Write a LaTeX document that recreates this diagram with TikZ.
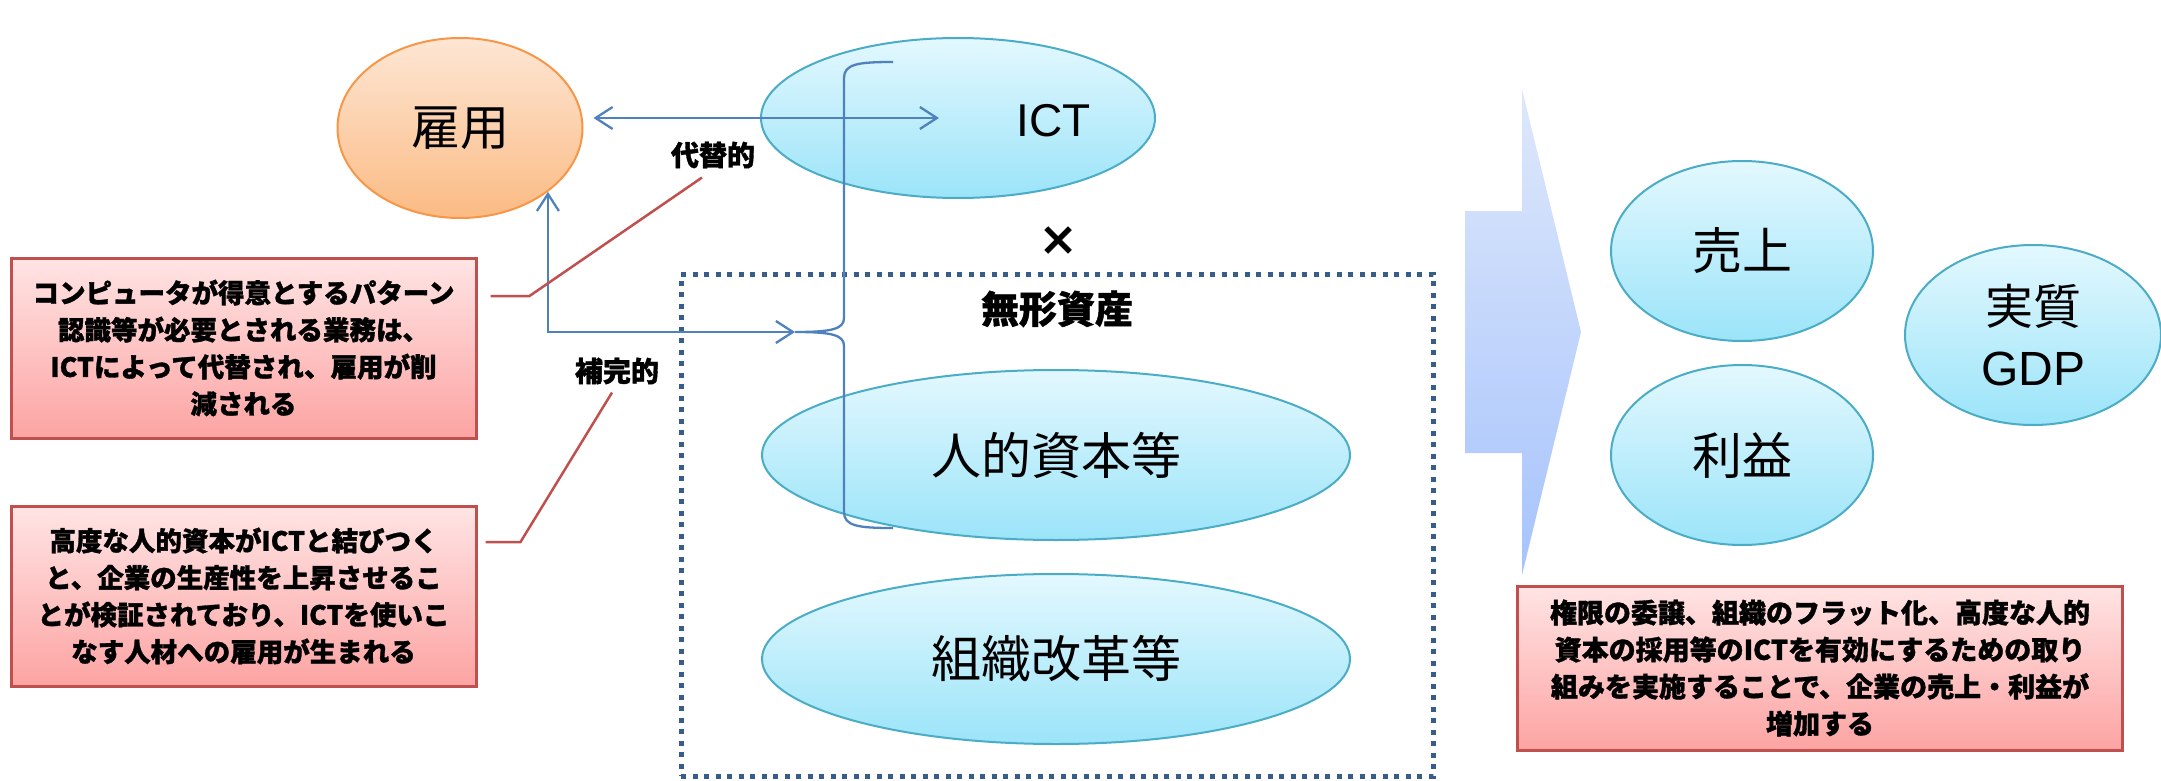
\documentclass[tikz,border=0pt]{standalone}
\usepackage{fontspec}
\setmainfont{Noto Sans CJK JP}[BoldFeatures={FakeBold=1.2}]
\newfontfamily\latinfont{Liberation Sans}
\usepackage{xcolor}
\usepackage{tikz}
\usetikzlibrary{positioning,shapes.geometric,arrows.meta}
\definecolor{rimorange}{HTML}{F79646}
\definecolor{peachtop}{HTML}{FDE6D4}
\definecolor{peachbot}{HTML}{FBBB84}
\definecolor{rimcyan}{HTML}{4BACC6}
\definecolor{skytop}{HTML}{E3F8FE}
\definecolor{skybot}{HTML}{9BE4F9}
\definecolor{rimred}{HTML}{C0504D}
\definecolor{pinktop}{HTML}{FFE4E4}
\definecolor{pinkbot}{HTML}{FCA4A3}
\definecolor{linkblue}{HTML}{4F81BD}
\definecolor{dotblue}{HTML}{385D8A}
\definecolor{arrowtop}{HTML}{DEE8FB}
\definecolor{arrowbot}{HTML}{A6C3FC}
\tikzset{
  job oval/.style={
    ellipse,
    draw=rimorange,
    line width=2pt,
    top color=peachtop,
    bottom color=peachbot,
    minimum width=245pt,
    minimum height=180pt,
    inner sep=0pt,
    font=\fontsize{49}{56}\selectfont,
  },
  sky oval/.style={
    ellipse,
    draw=rimcyan,
    line width=2pt,
    top color=skytop,
    bottom color=skybot,
    minimum width={#1},
    minimum height=170pt,
    inner sep=0pt,
    font=\fontsize{50}{60}\selectfont,
  },
  note box/.style={
    rectangle,
    draw=rimred,
    line width=3pt,
    top color=pinktop,
    bottom color=pinkbot,
    minimum width=465pt,
    minimum height=180pt,
    align=center,
    font=\bfseries\fontsize{26.5}{37}\selectfont,
  },
  blue line/.style={
    draw=linkblue,
    line width=2.3pt,
  },
  link/.style={
    blue line,
    {Straight Barb[length=17pt,width=22pt]}-{Straight Barb[length=17pt,width=22pt]},
  },
  callout/.style={
    draw=rimred,
    line width=2.5pt,
  },
  tag/.style={
    inner sep=0pt,
    font=\bfseries\fontsize{28}{32}\selectfont,
  }
}

\begin{document}
\begin{tikzpicture}[x=1pt, y=-1pt, node distance=22pt]
    \useasboundingbox (0,0) rectangle (2161,781);

    \node [job oval] (koyo) at (460,128) {雇用};
    \node [sky oval=394pt, minimum height=160pt,
      label={[font=\latinfont\fontsize{46}{50}\selectfont, xshift=96pt, yshift=-3pt]center:ICT}] (ict) at (958,118) {};
    \node [tag] (subst) at (713,155) {代替的};
    \node [tag] (compl) at (617,371) {補完的};

    \node [note box] (note1) at (243.5,348) {コンピュータが得意とするパターン\\認識等が必要とされる業務は、\\ICTによって代替され、雇用が削\\減される};
    \node [note box, below=65pt of note1] (note2) {高度な人的資本がICTと結びつく\\と、企業の生産性を上昇させるこ\\とが検証されており、ICTを使いこ\\なす人材への雇用が生まれる};

    \node [draw=dotblue, line width=5pt, dash pattern=on 5pt off 6.5pt,
      minimum width=752pt, minimum height=502pt] (intang) at (1057,525) {};
    \node [tag, font=\bfseries\fontsize{38}{40}\selectfont, below=19pt of intang.north] (mukei) {無形資産};
    \node [sky oval=588pt] (hcap) at (1056,455) {人的資本等};
    \node [sky oval=588pt, below=32pt of hcap] (org) {組織改革等};
    \node [font=\bfseries\fontsize{40}{40}\selectfont] (times) at (1058,241) {×};

    \coordinate (jnt) at (795,332);
    \draw [blue line] (893,62) .. controls (858,62) and (844,64) .. (844,78) -- (844,318)
      .. controls (844,329) and (832,332) .. (jnt)
      .. controls (832,332) and (844,335) .. (844,346) -- (844,512)
      .. controls (844,526) and (858,528) .. (893,528);
    \draw [link, shorten <=10pt, shorten >=19pt] (koyo.east |- ict.center) -- (ict.center);
    \draw [link] (koyo.-36) |- (jnt);

    \draw [callout] ([xshift=13pt,yshift=52pt]note1.east) -- ++(39,0) -- ([xshift=-11pt,yshift=-9pt]subst.south);
    \draw [callout] ([xshift=8pt,yshift=54pt]note2.east) -- ++(35,0) -- ([xshift=-5pt,yshift=-8pt]compl.south);

    \shade [top color=arrowtop, bottom color=arrowbot] (1465,211) -- (1522,211) -- (1522,89) -- (1581,332)
      -- (1522,575) -- (1522,453) -- (1465,453) -- cycle;
    \node [sky oval=262pt, minimum height=180pt] (sales) at (1742,251) {売上};
    \node [sky oval=262pt, minimum height=180pt, below=22pt of sales] (profit) {利益};
    \node [sky oval=256pt, minimum height=180pt, align=center, font=\fontsize{48}{61}\selectfont] (gdp) at (2033,335) {実質\\{\latinfont GDP}};
    \node [note box, minimum width=605pt, minimum height=164pt, font=\bfseries\fontsize{27}{37}\selectfont] (note3) at (1820,668) {権限の委譲、組織のフラット化、高度な人的\\資本の採用等のICTを有効にするための取り\\組みを実施することで、企業の売上・利益が\\増加する};
\end{tikzpicture}
\end{document}
